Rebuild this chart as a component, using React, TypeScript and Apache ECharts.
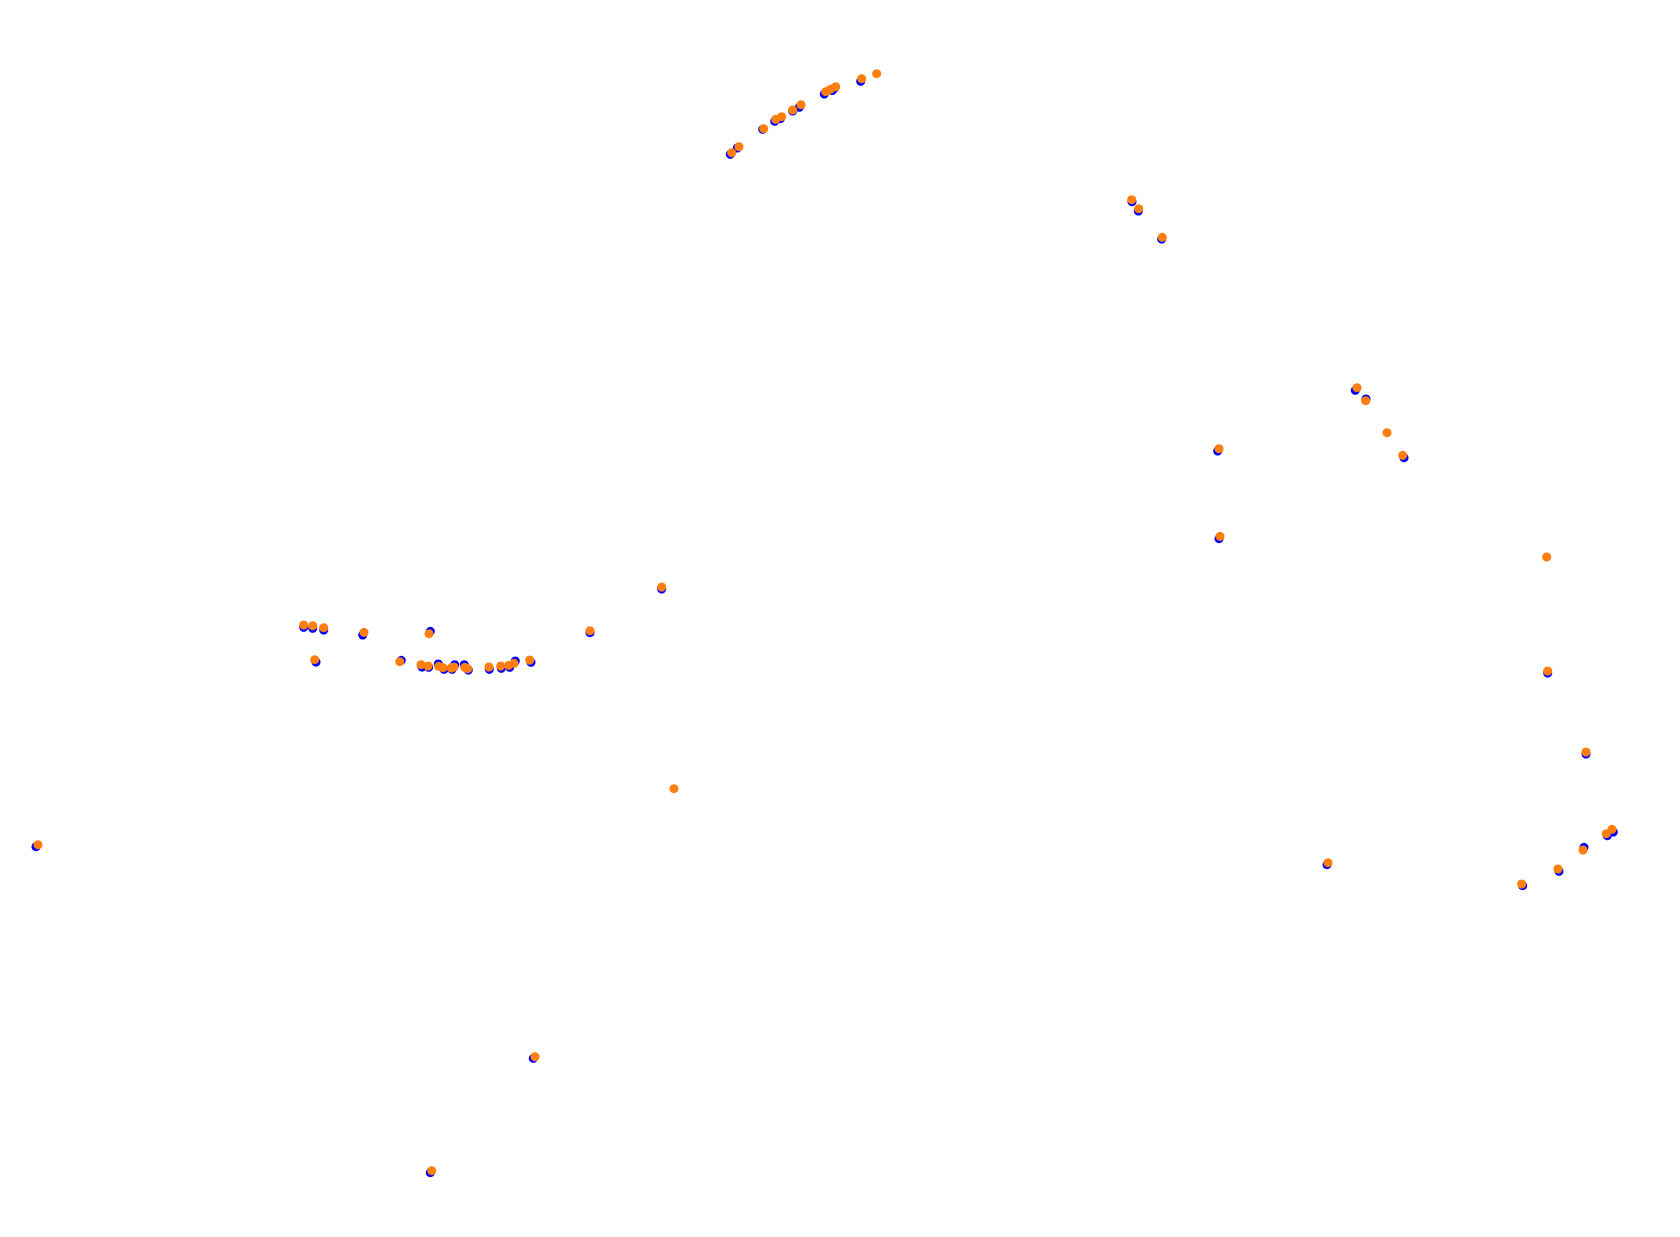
import React, { useEffect, useRef } from "react";
import * as echarts from "echarts";

// Orange series (x, y) in plot units (y grows downward)
const orangeX = [731.7, 739, 763.7, 775.7, 781.7, 792.7, 801, 825.7, 830.3, 835.7, 861.7, 876.7,
  1131.7, 1138.7, 1162.3, 1357, 1365.7, 1387, 1402.7, 1219, 1220, 1546.7, 1547.7,
  1586, 1606.3, 1612, 1583, 1558, 1521.7, 1328, 661.7, 674, 590, 535, 431.7, 38,
  303.7, 312.7, 323.7, 364, 429, 314.7, 399.7, 421, 428, 438.7, 443, 451.3, 454, 464.7, 467.7, 489, 500.7, 508.7, 514, 529.7];
const orangeY = [152.7, 146.7, 128.7, 119.3, 116.7, 110, 104.7, 91.7, 89.3, 86.7, 78.7, 73.7,
  199.7, 208.7, 237.3, 387.7, 400.7, 432.7, 455.3, 448.7, 536.3, 557, 671,
  752, 833.7, 829.3, 850, 869, 884, 862.7, 587, 788.7, 630.7, 1056.7, 1170.7, 844.7,
  625, 625.7, 627.7, 632.3, 633.7, 659.7, 661.7, 664.7, 666, 666.3, 667.7, 668, 667, 667.3, 668.7, 667, 666, 665.3, 663.3, 660];

// Blue series (x, y)
const blueX = [730.3, 737.3, 762.7, 774.7, 780.3, 792.7, 799.3, 824.3, 832.3, 834.5, 860.7,
  1132, 1138.3, 1161.7, 1355.3, 1366, 1404, 1217.7, 1219, 1547.7,
  1586, 1607.3, 1613.3, 1584, 1559, 1522.7, 1327, 661.7, 590, 533.3, 430.3, 36,
  303.7, 312.7, 323.7, 362.7, 430.3, 316, 401.3, 422, 428.7, 438.3, 444, 452, 454.7, 464.3, 468.3, 489.3, 501.3, 509.7, 515.3, 531];
const blueY = [154.3, 148, 129.3, 121.3, 118.7, 111, 107.3, 94, 90.5, 88, 81.3,
  201.7, 211, 239, 390.3, 399, 457.7, 451, 538.7, 673,
  754, 835.7, 832, 847.3, 871.3, 885.7, 864.7, 589, 632.7, 1058.3, 1172.7, 846.7,
  627.3, 628.3, 630, 635, 631.3, 662, 660.3, 667, 667.3, 664, 669.3, 669.3, 664.7, 664.7, 670, 669.3, 668.3, 667.3, 661, 662.3];

const X_MAX = 1680;
const Y_MAX = 1237;

export default function App() {
  const ref = useRef<HTMLDivElement>(null);
  useEffect(() => {
    if (!ref.current) return;
    const chart = echarts.init(ref.current, null, { renderer: "svg" });
    const blueData = blueX.map((x, i) => [x, blueY[i]]);
    const orangeData = orangeX.map((x, i) => [x, orangeY[i]]);
    chart.setOption({
      animation: false,
      backgroundColor: "#ffffff",
      grid: { left: 0, right: 0, top: 0, bottom: 0, containLabel: false },
      xAxis: { type: "value", min: 0, max: X_MAX, show: false },
      yAxis: { type: "value", min: 0, max: Y_MAX, inverse: true, show: false },
      series: [
        {
          name: "blue",
          type: "scatter",
          data: blueData,
          symbol: "circle",
          symbolSize: 9,
          itemStyle: { color: "#0000ff", opacity: 1 },
        },
        {
          name: "orange",
          type: "scatter",
          data: orangeData,
          symbol: "circle",
          symbolSize: 9,
          itemStyle: { color: "#ff7f0e", opacity: 1 },
        },
      ],
    });
    return () => chart.dispose();
  }, []);
  return (
    <div
      ref={ref}
      style={{ position: "fixed", left: 0, top: 0, width: "1680px", height: "1237px", background: "#fff" }}
    />
  );
}
